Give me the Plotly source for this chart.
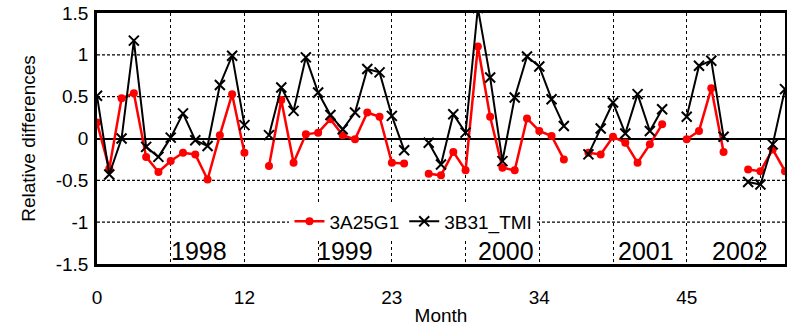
import plotly.graph_objects as go

months = list(range(57))

red_3a25g1 = [0.19, -0.36, 0.48, 0.54, -0.22, -0.40, -0.27, -0.17, -0.19, -0.49,
              0.04, 0.53, -0.17, None, -0.33, 0.46, -0.29, 0.05, 0.07, 0.23,
              0.04, -0.01, 0.31, 0.26, -0.29, -0.30, None, -0.42, -0.44, -0.16,
              -0.38, 1.10, 0.26, -0.35, -0.38, 0.24, 0.09, 0.03, -0.25, None,
              -0.17, -0.19, 0.02, -0.05, -0.29, -0.07, 0.17, None, -0.01, 0.09,
              0.60, -0.16, None, -0.37, -0.39, -0.13, -0.39]

black_3b31_tmi = [0.51, -0.43, 0.00, 1.17, -0.10, -0.22, 0.01, 0.30, -0.02, -0.09,
                  0.64, 0.99, 0.16, None, 0.04, 0.61, 0.33, 0.97, 0.55, 0.28,
                  0.11, 0.31, 0.83, 0.79, 0.27, -0.14, None, -0.05, -0.31, 0.29,
                  0.07, 1.56, 0.73, -0.27, 0.49, 0.98, 0.86, 0.47, 0.15, None,
                  -0.19, 0.12, 0.43, 0.06, 0.53, 0.09, 0.35, None, 0.26, 0.87,
                  0.93, 0.02, None, -0.52, -0.55, -0.07, 0.59]

x_tickvals = [0, 6, 12, 18, 24, 30, 36, 42, 48, 54]
x_ticktext = ["0", "", "12", "", "23", "", "34", "", "45", ""]

y_tickvals = [-1.5, -1, -0.5, 0, 0.5, 1, 1.5]
y_ticktext = ["-1.5", "-1", "-0.5", "0", "0.5", "1", "1.5"]
y_gridvals = [-1, -0.5, 0.5, 1]

year_labels = ["1998", "1999", "2000", "2001", "2002"]
year_label_x = [8.3, 20.2, 33.3, 44.7, 52.3]
year_label_y = -1.34

FONT = "Liberation Sans, Arial, sans-serif"

fig = go.Figure()
fig.add_trace(go.Scatter(
    x=months, y=red_3a25g1, name="3A25G1", mode="lines+markers",
    line=dict(color="#ff0000", width=2.5),
    marker=dict(symbol="circle", size=8, color="#ff0000"),
    connectgaps=False,
))
fig.add_trace(go.Scatter(
    x=months, y=black_3b31_tmi, name="3B31_TMI", mode="lines+markers",
    line=dict(color="#000000", width=2),
    marker=dict(symbol="x-thin", size=10, color="#000000",
                line=dict(color="#000000", width=2)),
    connectgaps=False,
))

# horizontal dotted gridlines
for gv in y_gridvals:
    fig.add_shape(type="line", xref="paper", yref="y", x0=0, x1=1, y0=gv, y1=gv,
                  line=dict(color="#000000", width=1.2, dash="3px,2px"), layer="below")

for txt, xv in zip(year_labels, year_label_x):
    fig.add_annotation(x=xv, y=year_label_y, xref="x", yref="y", text=txt,
                       showarrow=False, font=dict(size=25, color="#000000", family=FONT))

fig.update_xaxes(
    range=[0, 56], tickmode="array", tickvals=x_tickvals, ticktext=x_ticktext,
    showgrid=True, gridcolor="#000000", gridwidth=1, griddash="dot",
    showline=True, linecolor="#000000", linewidth=2.5, mirror=True,
    ticks="", ticklabelstandoff=14, zeroline=False, automargin=False,
    tickfont=dict(size=19, color="#000000", family=FONT),
    title=dict(text="Month", font=dict(size=19, color="#000000", family=FONT), standoff=8),
)
fig.update_yaxes(
    range=[-1.5, 1.5], tickmode="array", tickvals=y_tickvals, ticktext=y_ticktext,
    showgrid=False,
    showline=True, linecolor="#000000", linewidth=2.5, mirror=True,
    ticks="", ticklabelstandoff=2, automargin=False,
    zeroline=True, zerolinecolor="#000000", zerolinewidth=2,
    tickfont=dict(size=19, color="#000000", family=FONT),
    title=dict(text="Relative differences", font=dict(size=19, color="#000000", family=FONT), standoff=16),
)

fig.update_layout(
    width=787, height=326,
    margin=dict(l=97, r=2, t=13, b=62, autoexpand=False),
    paper_bgcolor="white", plot_bgcolor="white",
    font=dict(family=FONT, color="#000000"),
    showlegend=True,
    legend=dict(orientation="h", x=0.46, y=0.17, xanchor="center", yanchor="middle",
                bgcolor="white", font=dict(size=19, color="#000000", family=FONT),
                itemwidth=30, tracegroupgap=0),
)

fig.write_html("out.html")
